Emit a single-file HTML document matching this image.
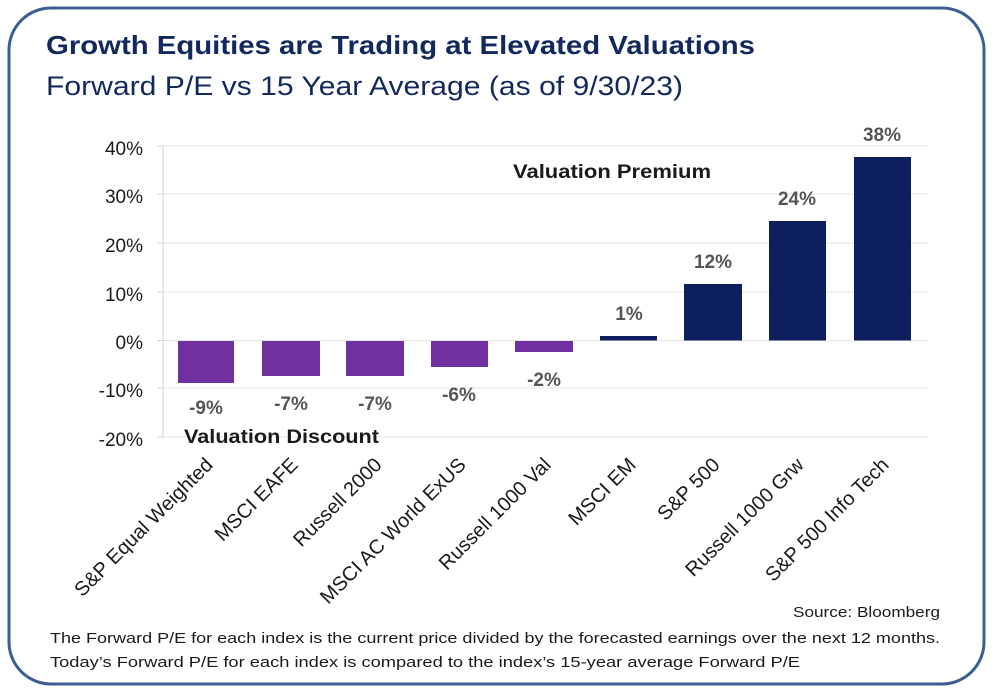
<!DOCTYPE html>
<html><head><meta charset="utf-8"><style>
html,body{margin:0;padding:0;background:#fff;}
svg{display:block;font-family:"Liberation Sans",Calibri,sans-serif;}
</style></head><body>
<svg width="994" height="692" viewBox="0 0 994 692" xmlns="http://www.w3.org/2000/svg">
<rect x="9" y="8" width="975" height="676" rx="42" ry="42" fill="#fff" stroke="#3b5f93" stroke-width="3"/>
<text x="46" y="54" font-size="26" font-weight="bold" fill="#13295e" textLength="709" lengthAdjust="spacingAndGlyphs">Growth Equities are Trading at Elevated Valuations</text>
<text x="46" y="95" font-size="27" fill="#13295e" textLength="637" lengthAdjust="spacingAndGlyphs">Forward P/E vs 15 Year Average (as of 9/30/23)</text>
<g stroke="#e4e4e4" stroke-width="1">
<line x1="163" y1="146" x2="928" y2="146"/><line x1="163" y1="194" x2="928" y2="194"/>
<line x1="163" y1="243" x2="928" y2="243"/><line x1="163" y1="292" x2="928" y2="292"/>
<line x1="163" y1="340.5" x2="928" y2="340.5"/><line x1="163" y1="388" x2="928" y2="388"/>
<line x1="163" y1="437" x2="928" y2="437"/>
</g>
<g stroke="#d0d0d0" stroke-width="1">
<line x1="163" y1="146" x2="163" y2="437"/>
<line x1="157" y1="146" x2="163" y2="146"/><line x1="157" y1="194" x2="163" y2="194"/>
<line x1="157" y1="243" x2="163" y2="243"/><line x1="157" y1="292" x2="163" y2="292"/>
<line x1="157" y1="340.5" x2="163" y2="340.5"/><line x1="157" y1="388" x2="163" y2="388"/>
<line x1="157" y1="437" x2="163" y2="437"/>
</g>
<g font-size="19" fill="#1a1a1a" text-anchor="end">
<text x="143" y="155">40%</text><text x="143" y="203">30%</text><text x="143" y="252">20%</text>
<text x="143" y="301">10%</text><text x="143" y="349">0%</text><text x="143" y="397">-10%</text>
<text x="143" y="446">-20%</text>
</g>
<g fill="#7030a0">
<rect x="178" y="341" width="56" height="42"/><rect x="262" y="341" width="58" height="35"/>
<rect x="346" y="341" width="58" height="35"/><rect x="431" y="341" width="57" height="26"/>
<rect x="515" y="341" width="58" height="11"/>
</g>
<g fill="#0d1f5c">
<rect x="600" y="336" width="57" height="4.5"/><rect x="684" y="284" width="58" height="56.5"/>
<rect x="769" y="221" width="57" height="119.5"/><rect x="854" y="157" width="57" height="183.5"/>
</g>
<g font-size="19" font-weight="bold" fill="#555" text-anchor="middle">
<text x="206" y="414">-9%</text><text x="291" y="410">-7%</text><text x="375" y="410">-7%</text>
<text x="459" y="401">-6%</text><text x="544" y="386">-2%</text>
<text x="629" y="320">1%</text><text x="713" y="268">12%</text><text x="797" y="205">24%</text>
<text x="882" y="141">38%</text>
</g>
<text x="513" y="178" font-size="19" font-weight="bold" fill="#1a1a1a" textLength="198" lengthAdjust="spacingAndGlyphs">Valuation Premium</text>
<text x="184" y="443" font-size="19" font-weight="bold" fill="#1a1a1a" textLength="195" lengthAdjust="spacingAndGlyphs">Valuation Discount</text>
<g font-size="20" fill="#1a1a1a" text-anchor="end">
<text transform="translate(214,466) rotate(-45)">S&amp;P Equal Weighted</text>
<text transform="translate(299,466) rotate(-45)">MSCI EAFE</text>
<text transform="translate(383,466) rotate(-45)">Russell 2000</text>
<text transform="translate(467,466) rotate(-45)">MSCI AC World ExUS</text>
<text transform="translate(552,466) rotate(-45)">Russell 1000 Val</text>
<text transform="translate(637,466) rotate(-45)">MSCI EM</text>
<text transform="translate(721,466) rotate(-45)">S&amp;P 500</text>
<text transform="translate(805,466) rotate(-45)">Russell 1000 Grw</text>
<text transform="translate(890,466) rotate(-45)">S&amp;P 500 Info Tech</text>
</g>
<text x="793" y="617" font-size="15" fill="#1a1a1a" textLength="147" lengthAdjust="spacingAndGlyphs">Source: Bloomberg</text>
<text x="50" y="643" font-size="15" fill="#1a1a1a" textLength="890" lengthAdjust="spacingAndGlyphs">The Forward P/E for each index is the current price divided by the forecasted earnings over the next 12 months.</text>
<text x="50" y="667" font-size="15" fill="#1a1a1a" textLength="750" lengthAdjust="spacingAndGlyphs">Today’s Forward P/E for each index is compared to the index’s 15-year average Forward P/E</text>
</svg>
</body></html>
